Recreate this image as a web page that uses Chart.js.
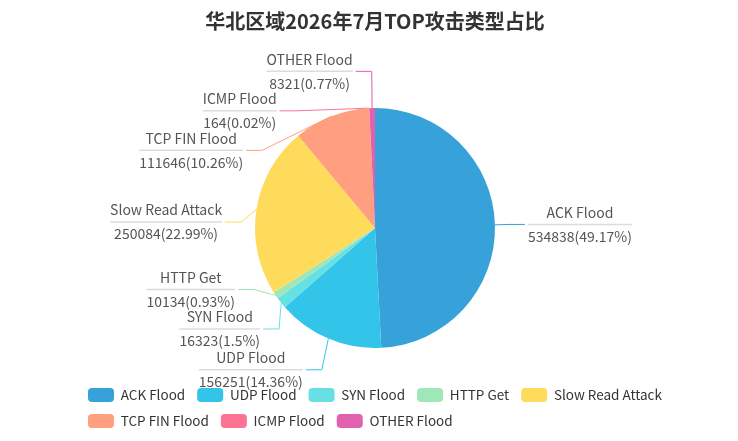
<!DOCTYPE html>
<html>
<head>
<meta charset="utf-8">
<script src="https://cdn.jsdelivr.net/npm/chart.js@4.4.1/dist/chart.umd.min.js"></script>
<style>
  html, body { margin: 0; padding: 0; background: #fff; }
  #wrap { width: 738px; height: 441px; }
</style>
</head>
<body>
<div id="wrap"><canvas id="chart"></canvas></div>
<script>
const titleText = '华北区域2026年7月TOP攻击类型占比';
const categories = ['ACK Flood', 'UDP Flood', 'SYN Flood', 'HTTP Get', 'Slow Read Attack', 'TCP FIN Flood', 'ICMP Flood', 'OTHER Flood'];
const attackCounts = [534838, 156251, 16323, 10134, 250084, 111646, 164, 8321];
const sliceColors = ['#37a2da', '#32c5e9', '#67e0e3', '#9fe6b8', '#ffdb5c', '#ff9f7f', '#fb7293', '#e062ae'];

const FONT = '"Noto Sans CJK SC", "Noto Sans", sans-serif';
const LINE_LEN = 17;       // first leg of the label line
const LINE_LEN2 = 16;      // horizontal leg
const TEXT_GAP = 3;
const TEXT_RADIUS = 33;    // text edge distance past the pie edge
const LABEL_H = 39.5;

// percentages with 2 decimals that add up to 100 (largest remainder)
function percents(values) {
  const total = values.reduce((a, b) => a + b, 0);
  const digits = 10000;
  const raw = values.map(v => v / total * digits);
  const seats = raw.map(Math.floor);
  let left = digits - seats.reduce((a, b) => a + b, 0);
  const order = raw.map((v, i) => i).sort((a, b) => (raw[b] - seats[b]) - (raw[a] - seats[a]));
  for (let k = 0; k < left; k++) seats[order[k]]++;
  return seats.map(s => s / 100);
}
const attackPercents = percents(attackCounts);

// echarts-4 style overlap shift for one side of the pie
function adjustSide(list, cx, cy, r, dir, viewH) {
  list.sort((a, b) => a.y - b.y);
  function shiftUp(end, delta) {
    for (let j = end; j >= 0; j--) {
      if (list[j].y - delta < 0) break;
      list[j].y -= delta;
      if (j > 0 && list[j].y > list[j - 1].y + LABEL_H) break;
    }
  }
  function shiftDown(start, end, delta) {
    for (let j = start; j < end; j++) {
      if (list[j].y + delta > viewH) break;
      list[j].y += delta;
      if (j > start && j + 1 < end && list[j + 1].y > list[j].y + LABEL_H) {
        shiftUp(j, delta / 2);
        return;
      }
    }
    shiftUp(end - 1, delta / 2);
  }
  let lastY = 0;
  for (let i = 0; i < list.length; i++) {
    const delta = list[i].y - lastY;
    if (delta < 0) shiftDown(i, list.length, -delta);
    lastY = list[i].y + LABEL_H;
  }
  if (viewH - lastY < 0) shiftUp(list.length - 1, lastY - viewH);

  const up = list.filter(l => l.y < cy);
  const down = list.filter(l => l.y >= cy);
  [[up, false], [down, true]].forEach(([part, isDown]) => {
    let last = isDown ? Number.MAX_VALUE : 0;
    part.forEach(l => {
      const dy = Math.abs(l.y - cy);
      let dx = dy < r + LINE_LEN
        ? Math.sqrt(Math.pow(r + TEXT_RADIUS, 2) - dy * dy)
        : Math.abs(l.x - cx);
      if (isDown && dx >= last) dx = last - 10;
      if (!isDown && dx <= last) dx = last + 10;
      l.x = cx + dx * dir;
      last = dx;
    });
  });
}

function layoutLabels(chart) {
  const meta = chart.getDatasetMeta(0);
  let cx = 0, cy = 0, r = 0;
  const items = meta.data.map((arc, i) => {
    const p = arc.getProps(['x', 'y', 'startAngle', 'endAngle', 'outerRadius'], true);
    cx = p.x; cy = p.y; r = p.outerRadius;
    const mid = (p.startAngle + p.endAngle) / 2;
    const ux = Math.cos(mid), uy = Math.sin(mid);
    const dir = ux < 0 ? -1 : 1;
    const x2 = p.x + ux * (r + LINE_LEN);
    return {
      i, dir,
      x1: p.x + ux * r, y1: p.y + uy * r,
      x: x2 + dir * (LINE_LEN2 + TEXT_GAP),
      y: p.y + uy * (r + LINE_LEN)
    };
  });
  adjustSide(items.filter(l => l.dir < 0), cx, cy, r, -1, chart.height);
  adjustSide(items.filter(l => l.dir > 0), cx, cy, r, 1, chart.height);
  items.forEach(l => {
    l.x3 = l.x - l.dir * TEXT_GAP;
    l.x2 = l.x3 - l.dir * LINE_LEN2;
  });
  return items;
}

const pieLabels = {
  id: 'pieLabels',
  beforeDatasetsDraw(chart) {
    const ctx = chart.ctx;
    chart.$labels = layoutLabels(chart);
    ctx.save();
    ctx.lineWidth = 1;
    chart.$labels.forEach(l => {
      ctx.strokeStyle = sliceColors[l.i];
      ctx.beginPath();
      ctx.moveTo(l.x1, l.y1);
      ctx.lineTo(l.x2, l.y);
      ctx.lineTo(l.x3, l.y);
      ctx.stroke();
    });
    ctx.restore();
  },
  afterDatasetsDraw(chart) {
    const ctx = chart.ctx;
    ctx.save();
    ctx.font = '14px ' + FONT;
    ctx.textAlign = 'center';
    ctx.textBaseline = 'middle';
    chart.$labels.forEach(l => {
      const name = categories[l.i];
      const val = attackCounts[l.i] + '(' + attackPercents[l.i] + '%)';
      const w = Math.max(ctx.measureText(name).width, ctx.measureText(val).width);
      const xa = l.x, xb = l.x + l.dir * w;
      ctx.strokeStyle = '#dcdcdc';
      ctx.lineWidth = 1.5;
      ctx.beginPath();
      ctx.moveTo(xa, l.y);
      ctx.lineTo(xb, l.y);
      ctx.stroke();
      ctx.fillStyle = '#555';
      ctx.fillText(name, (xa + xb) / 2, l.y - 12);
      ctx.fillText(val, (xa + xb) / 2, l.y + 12);
    });
    ctx.restore();
  },
  afterLayout(chart) {
    // legend rows start at the left of a narrower block, like the original
    chart.legend.left = 76;
    chart.legend.right = 690;
  }
};

Chart.defaults.font.family = FONT;

new Chart(document.getElementById('chart'), {
  type: 'pie',
  data: {
    labels: categories,
    datasets: [{
      data: attackCounts,
      backgroundColor: sliceColors,
      borderWidth: 0,
      radius: 120
    }]
  },
  options: {
    responsive: true,
    maintainAspectRatio: false,
    animation: false,
    layout: { padding: { left: 12, right: 0, top: 0, bottom: 3 } },
    plugins: {
      title: {
        display: true,
        text: titleText,
        color: '#333',
        font: { size: 20, weight: 'bold', family: FONT },
        padding: { top: 9, bottom: 47 }
      },
      legend: {
        position: 'bottom',
        align: 'start',
        labels: {
          boxWidth: 26,
          boxHeight: 14,
          useBorderRadius: true,
          borderRadius: 4,
          padding: 12,
          color: '#333',
          font: { size: 13.5, family: FONT }
        }
      },
      tooltip: { enabled: false }
    }
  },
  plugins: [pieLabels]
});
</script>
</body>
</html>
